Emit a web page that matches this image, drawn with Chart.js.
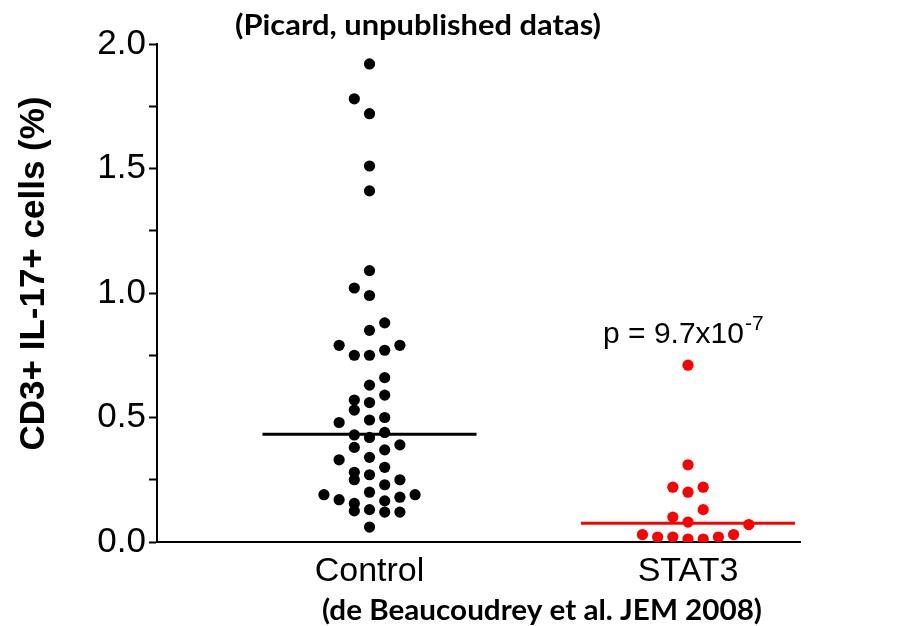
<!DOCTYPE html>
<html>
<head>
<meta charset="utf-8">
<title>CD3+ IL-17+ cells</title>
<script src="https://cdn.jsdelivr.net/npm/chart.js@4.4.1/dist/chart.umd.min.js"></script>
<style>
  html, body { margin: 0; padding: 0; background: #fff; }
</style>
</head>
<body>
<canvas id="myDotChart" width="909" height="626"></canvas>
<script>
// groups on the x axis
const groups = ['Control', 'STAT3'];

// CD3+ IL-17+ cells (%)
const controlValues = [1.92, 1.78, 1.72, 1.51, 1.41, 1.09, 1.02, 0.99, 0.88, 0.85,
  0.79, 0.79, 0.77, 0.75, 0.75, 0.66, 0.63, 0.59, 0.57, 0.56,
  0.53, 0.50, 0.49, 0.48, 0.44, 0.43, 0.42, 0.39, 0.38, 0.37,
  0.34, 0.33, 0.30, 0.28, 0.27, 0.25, 0.25, 0.23, 0.20, 0.19,
  0.19, 0.18, 0.17, 0.165, 0.155, 0.13, 0.125, 0.12, 0.12, 0.06];
// swarm column of each dot (0 = middle of the group)
const controlCols = [0, -1, 0, 0, 0, 0, -1, 0, 1, 0,
  -2, 2, 1, -1, 0, 1, 0, 1, -1, 0,
  -1, 1, 0, -2, 1, -1, 0, 2, -1, 1,
  0, -2, 1, -1, 0, -1, 2, 1, 0, -3,
  3, 2, -2, 1, -1, 0, -1, 1, 2, 0];

const stat3Values = [0.71, 0.31, 0.22, 0.22, 0.20, 0.13, 0.10, 0.08, 0.07, 0.03,
  0.02, 0.02, 0.012, 0.012, 0.02, 0.03];
const stat3Cols = [0, 0, -1, 1, 0, 1, -1, 0, 4, -3,
  -2, -1, 0, 1, 2, 3];

// horizontal bar of each group
const medians = [0.433, 0.075];

// labelled y ticks (minor ticks every 0.25)
const yTicks = [0, 0.5, 1.0, 1.5, 2.0];

const pValue = 'p = 9.7x10';
const pExponent = '-7';

const slotWidth = 0.0477;
const barHalf = 0.336;

function swarm(g, values, cols){
  return values.map((v, i) => ({ x: g + 1 + cols[i] * slotWidth, y: v }));
}
function bar(g, m){
  return [{ x: g + 1 - barHalf, y: m }, { x: g + 1 + barHalf, y: m }];
}

/* fit a bold caption to the width it has in the picture */
function caption(ctx, text, cx, base, width){
  ctx.save();
  ctx.font = 'bold 29px Lato';
  const w = ctx.measureText(text).width;
  ctx.translate(cx, base);
  ctx.scale(width / w, 1);
  ctx.textAlign = 'center';
  ctx.textBaseline = 'alphabetic';
  ctx.fillText(text, 0, 0);
  ctx.restore();
}

const textPlugin = {
  id: 'textPlugin',
  afterDraw(chart){
    const ctx = chart.ctx;
    const xs = chart.scales.x, ys = chart.scales.y;
    ctx.save();
    ctx.fillStyle = '#000';

    // y axis title
    ctx.save();
    ctx.font = 'bold 35px "Liberation Sans", Arial, sans-serif';
    ctx.translate(43.5, 273.5);
    ctx.rotate(-Math.PI / 2);
    ctx.textAlign = 'center';
    ctx.textBaseline = 'alphabetic';
    ctx.fillText('CD3+ IL-17+ cells (%)', 0, 0);
    ctx.restore();

    // p value
    const px = xs.getPixelForValue(2) - 85;
    const py = ys.getPixelForValue(0.8);
    ctx.font = '30px "Liberation Sans", Arial, sans-serif';
    ctx.textAlign = 'left';
    ctx.textBaseline = 'alphabetic';
    ctx.fillText(pValue, px, py);
    const w = ctx.measureText(pValue).width;
    ctx.font = '21px "Liberation Sans", Arial, sans-serif';
    ctx.fillText(pExponent, px + w + 1, py - 13);

    caption(ctx, '(Picard, unpublished datas)', 418, 35, 366);
    caption(ctx, '(de Beaucoudrey et al. JEM 2008)', 542, 620, 440);
    ctx.restore();
  }
};

function chartDots(){
  const ctx = document.getElementById('myDotChart').getContext('2d');
  new Chart(ctx, {
    type: 'scatter',
    data: {
      datasets: [
        {
          label: groups[0],
          data: swarm(0, controlValues, controlCols),
          backgroundColor: '#000',
          pointRadius: 5.6,
          pointBorderWidth: 0
        },
        {
          label: groups[1],
          data: swarm(1, stat3Values, stat3Cols),
          backgroundColor: '#ff0000',
          pointRadius: 5.6,
          pointBorderWidth: 0
        },
        {
          type: 'line',
          data: bar(0, medians[0]),
          borderColor: '#000',
          borderWidth: 3,
          pointRadius: 0
        },
        {
          type: 'line',
          data: bar(1, medians[1]),
          borderColor: '#ff0000',
          borderWidth: 3,
          pointRadius: 0
        }
      ]
    },
    options: {
      responsive: false,
      animation: false,
      devicePixelRatio: 1,
      layout: { padding: { top: 44, right: 109, left: 0, bottom: 0 } },
      plugins: { legend: { display: false }, tooltip: { enabled: false } },
      scales: {
        x: {
          type: 'linear',
          min: 0.3328,
          max: 2.3516,
          afterBuildTicks: s => { s.ticks = groups.map((g, i) => ({ value: i + 1 })); },
          afterFit: s => { s.height = 84; },
          ticks: {
            callback: v => groups[Math.round(v) - 1],
            font: { family: '"Liberation Sans", Arial, sans-serif', size: 34 },
            color: '#000',
            padding: 9,
            maxRotation: 0,
            autoSkip: false
          },
          grid: { drawOnChartArea: false, drawTicks: false },
          border: { color: '#000', width: 2 }
        },
        y: {
          min: 0,
          max: 2,
          afterFit: s => { s.width = 157; },
          ticks: {
            stepSize: 0.25,
            callback: v => yTicks.includes(v) ? v.toFixed(1) : '',
            font: { family: '"Liberation Sans", Arial, sans-serif', size: 35 },
            color: '#000',
            padding: 3,
            autoSkip: false
          },
          grid: { drawOnChartArea: false, drawTicks: true, tickLength: 8, tickColor: '#000', tickWidth: 2 },
          border: { color: '#000', width: 2 }
        }
      }
    },
    plugins: [textPlugin]
  });
}

window.onload = function(){
  chartDots();
};
</script>
</body>
</html>
